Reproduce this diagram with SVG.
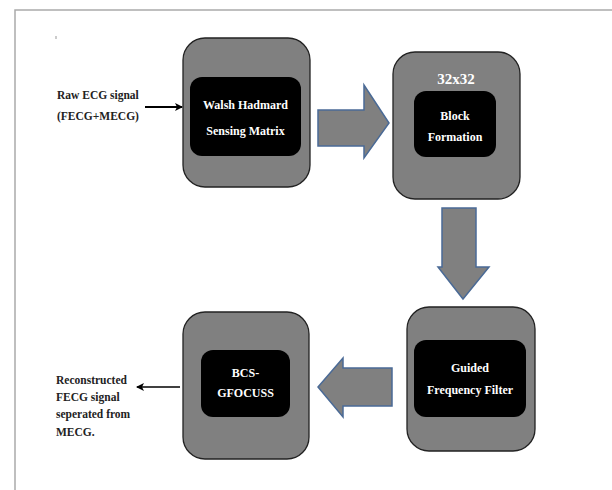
<svg xmlns="http://www.w3.org/2000/svg" width="612" height="490" viewBox="0 0 612 490">
<defs>
<marker id="ah" markerWidth="8" markerHeight="8" refX="7" refY="4" orient="auto" markerUnits="userSpaceOnUse"><path d="M0,0 L8,4 L0,8 L2,4 Z" fill="#000"/></marker>
<style>
.outer{fill:#808080;stroke:#222;stroke-width:1.3}
.inner{fill:#000}
.lbl{font-family:"Liberation Serif",serif;font-weight:bold;font-size:12px;fill:#fff;text-anchor:middle}
.side{font-family:"Liberation Serif",serif;font-weight:bold;font-size:11.5px;fill:#222}
.big{fill:#808080;stroke:#4a6a96;stroke-width:1.5}
</style>
</defs>
<rect x="0" y="0" width="612" height="490" fill="#fff"/>
<path d="M15,490 L15,10 L612,10" fill="none" stroke="#aaa" stroke-width="1.5"/>
<path d="M56,36 L56,39" stroke="#999" stroke-width="1"/>
<g id="walsh">
<rect class="outer" x="183" y="38" width="127" height="149" rx="22"/>
<rect class="inner" x="190" y="77" width="111" height="79" rx="12"/>
<text class="lbl" x="245.5" y="109">Walsh Hadmard</text>
<text class="lbl" x="245.5" y="135">Sensing Matrix</text>
</g>
<g id="block">
<rect class="outer" x="393" y="52" width="127" height="147" rx="22"/>
<rect class="inner" x="414" y="91" width="82" height="66" rx="12"/>
<text class="lbl" x="456" y="84" style="font-size:15px">32x32</text>
<text class="lbl" x="455" y="120">Block</text>
<text class="lbl" x="455" y="141">Formation</text>
</g>
<g id="guided">
<rect class="outer" x="407" y="307" width="128" height="144" rx="22"/>
<rect class="inner" x="414" y="340" width="112" height="77" rx="12"/>
<text class="lbl" x="470" y="372">Guided</text>
<text class="lbl" x="470" y="394">Frequency Filter</text>
</g>
<g id="bcs">
<rect class="outer" x="183" y="312" width="126" height="147" rx="22"/>
<rect class="inner" x="201" y="350" width="89" height="67" rx="12"/>
<text class="lbl" x="245.5" y="377">BCS-</text>
<text class="lbl" x="245.5" y="397">GFOCUSS</text>
</g>
<g id="input">
<text class="side" x="57" y="99">Raw ECG signal</text>
<text class="side" x="57" y="120">(FECG+MECG)</text>
</g>
<g id="output">
<text class="side" x="56" y="384">Reconstructed</text>
<text class="side" x="56" y="401">FECG signal</text>
<text class="side" x="56" y="418">seperated from</text>
<text class="side" x="56" y="436">MECG.</text>
</g>
<g id="connectors">
<line x1="145" y1="107" x2="182" y2="107" stroke="#000" stroke-width="2" marker-end="url(#ah)"/>
<line x1="180" y1="387" x2="137" y2="387" stroke="#000" stroke-width="1.5" marker-end="url(#ah)"/>
<path class="big" d="M318,110 L364,110 L364,85 L389,123 L364,158 L364,146 L318,146 Z"/>
<path class="big" d="M442,208 L476,208 L476,267 L489,267 L463,299 L438,267 L442,267 Z"/>
<path class="big" d="M392,368 L343,368 L343,358 L318,387 L343,417 L343,406 L392,406 Z"/>
</g>
</svg>
